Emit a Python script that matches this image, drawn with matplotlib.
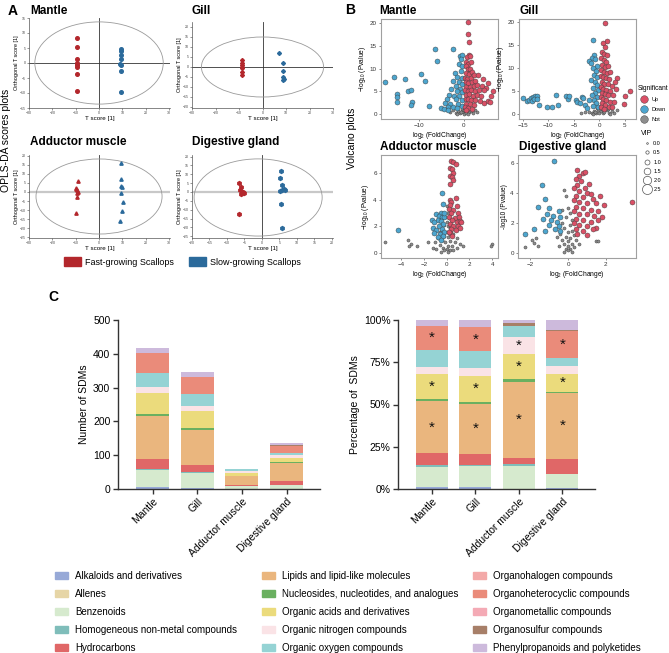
import numpy as np
import matplotlib
matplotlib.use("Agg")
import matplotlib.pyplot as plt
from matplotlib.patches import Ellipse, Patch
from matplotlib.lines import Line2D

plt.rcParams["font.family"] = ["Liberation Sans", "DejaVu Sans"]
plt.rcParams["mathtext.fontset"] = "custom"
plt.rcParams["mathtext.rm"] = "Liberation Sans"
plt.rcParams["mathtext.it"] = "Liberation Sans:italic"

# ── Data ──────────────────────────────────────────────────
tissues = ["Mantle", "Gill", "Adductor muscle", "Digestive gland"]
groups = ["Fast-growing Scallops", "Slow-growing Scallops"]

# OPLS-DA scores: (T score, orthogonal T score)
mantle_fast = [(-9.5, 8.4), (-9.4, 5.2), (-9.4, 1.3), (-9.3, 0.1), (-9.4, -0.6), (-9.5, -1.2), (-9.4, -3.7), (-9.4, -9.3)]
mantle_slow = [(9.2, 4.6), (9.3, 4.0), (9.2, 2.7), (9.3, 1.3), (9.1, -0.3), (9.2, -0.7), (9.2, -2.6), (9.3, -9.7)]
gill_fast = [(-8.8, 3.5), (-8.7, 2.2), (-8.8, 1.0), (-8.6, -0.2), (-8.8, -0.7), (-8.7, -2.3), (-8.8, -4.0)]
gill_slow = [(7.2, 7.2), (8.6, 1.8), (8.7, -2.0), (8.8, -5.1), (9.0, -5.8), (8.7, -6.3)]
adductor_fast = [(-9.0, 6.1), (-10.0, 2.4), (-9.8, 1.7), (-9.3, 1.1), (-9.1, 0.2), (-9.6, -0.7), (-9.3, -2.9), (-9.8, -11.8)]
adductor_slow = [(9.3, 16.3), (9.3, 7.1), (9.6, 3.3), (9.9, 2.9), (9.2, -0.7), (10.2, -5.4), (9.9, -10.6), (9.0, -16.1)]
digestive_fast = [(-6.7, 5.3), (-6.1, 2.6), (-6.3, 0.9), (-5.8, 0.0), (-5.3, -0.2), (-6.1, -1.1), (-5.1, -0.6), (-6.7, -12.6)]
digestive_slow = [(5.3, 11.9), (5.1, 8.1), (5.6, 4.0), (6.3, 1.6), (5.6, 0.9), (5.1, 0.4), (6.6, 1.2), (5.3, -6.9), (5.6, -20.5)]

# Volcano points: (log2 FC, -log10 P)
mantle_up = [(1.0, 20.3), (0.9, 17.5), (1.2, 15.8), (1.1, 13), (0.8, 12.5), (1.4, 12.8), (0.6, 11.5), (1.0, 11),
             (1.6, 11.5), (0.4, 10.5), (0.9, 10), (1.3, 9.8), (0.5, 9), (1.1, 8.8), (1.8, 9.2), (0.3, 8), (0.8, 7.8),
             (1.5, 8), (2.2, 8.5), (3.2, 8.6), (0.4, 7), (1.0, 6.8), (1.9, 7), (2.6, 7.2), (4.2, 7.8), (5.3, 6.8),
             (0.6, 6), (1.3, 6), (2.2, 6.1), (3.0, 6.3), (4.0, 6.1), (5.0, 5.8), (0.3, 5.2), (0.9, 5), (1.6, 5.3),
             (2.5, 5.1), (3.4, 5.3), (4.5, 5.2), (6.4, 5.0), (0.5, 4.2), (1.2, 4.3), (2.0, 4.0), (2.9, 4.2), (3.8, 3.9),
             (6.0, 4.0), (0.4, 3.2), (1.0, 3.3), (1.7, 3.0), (2.6, 3.1), (3.5, 2.9), (4.6, 2.5), (5.4, 2.9), (0.6, 2.3),
             (1.4, 2.2), (2.2, 2.0), (5.8, 2.7), (0.3, 1.5), (1.0, 1.4), (1.8, 1.2), (0.6, 0.9)]
mantle_down = [(-17.5, 7.0), (-15.5, 8.2), (-14.8, 4.4), (-14.8, 3.8), (-14.8, 2.6), (-13.0, 7.8), (-12.3, 5.0),
               (-11.8, 5.3), (-11.5, 2.7), (-11.7, 1.9), (-9.5, 8.7), (-8.7, 7.2), (-7.7, 1.8), (-6.5, 14.4),
               (-5.9, 11.6), (-5.0, 1.3), (-2.3, 14.3), (-0.8, 12.8), (-0.4, 12.9), (-0.6, 12.0), (-1.0, 11.0),
               (-0.3, 10.5), (-2.0, 9.0), (-0.7, 9.5), (-1.5, 8.2), (-0.4, 8.0), (-2.3, 7.2), (-1.0, 7.0), (-0.5, 6.5),
               (-1.8, 6.2), (-2.8, 5.5), (-0.8, 5.5), (-1.4, 5.0), (-0.3, 4.8), (-3.2, 4.2), (-2.2, 4.0), (-1.0, 4.0),
               (-3.8, 3.2), (-1.7, 3.2), (-0.5, 3.0), (-4.2, 2.5), (-3.0, 2.3), (-1.2, 2.2), (-0.4, 1.8), (-3.6, 1.6),
               (-2.5, 1.5), (-4.5, 1.2), (-1.5, 1.3), (-3.5, 0.9)]
mantle_not = [(-1.8, 0.3), (-1.2, 0.6), (-0.8, 0.2), (-0.5, 0.8), (-0.2, 0.4), (0.0, 0.1), (0.2, 0.6), (0.5, 0.3),
              (0.8, 0.9), (1.2, 0.4), (1.6, 0.7), (2.1, 0.3), (-2.5, 0.8), (-0.3, 1.1), (0.3, 1.2), (2.6, 0.9),
              (-1.5, 0.1), (1.0, 0.05), (3.0, 0.5), (-3.0, 0.4), (0.1, 0.8), (-0.6, 0.5)]

gill_up = [(1.1, 19.7), (1.5, 15.8), (0.8, 15.3), (1.2, 14.5), (0.5, 13.5), (1.0, 13.0), (1.6, 12.7), (0.4, 12.2),
           (0.9, 11.8), (1.4, 11.2), (0.6, 10.6), (1.1, 10.2), (1.8, 10.3), (0.4, 9.5), (0.9, 9.1), (1.5, 8.8),
           (2.2, 9.0), (0.3, 8.2), (0.8, 8.0), (1.3, 7.7), (2.0, 7.5), (3.5, 7.8), (3.2, 7.0), (0.5, 7.0), (1.0, 6.6),
           (1.7, 6.4), (2.5, 6.0), (0.3, 5.8), (0.8, 5.5), (1.4, 5.3), (2.1, 5.0), (3.3, 5.4), (6.1, 4.9), (0.5, 4.6),
           (1.1, 4.4), (1.8, 4.0), (2.8, 4.0), (5.0, 3.8), (0.3, 3.6), (0.8, 3.3), (1.4, 3.1), (2.2, 2.6), (3.0, 2.5),
           (4.9, 2.2), (0.6, 2.3), (1.2, 2.0), (1.9, 1.6), (0.4, 1.4), (1.0, 1.1), (2.6, 1.4)]
gill_down = [(-15.0, 3.5), (-14.3, 2.8), (-13.8, 3.1), (-13.4, 3.4), (-13.0, 3.6), (-12.6, 3.8), (-12.2, 3.8),
             (-13.2, 2.9), (-12.8, 3.2), (-12.3, 3.3), (-11.8, 1.9), (-10.3, 1.6), (-9.3, 1.6), (-8.6, 4.0),
             (-8.1, 1.9), (-6.6, 3.8), (-6.1, 3.3), (-5.9, 3.9), (-4.5, 3.1), (-4.3, 2.5), (-3.7, 2.3), (-3.4, 3.7),
             (-3.2, 3.5), (-2.8, 2.0), (-2.5, 1.2), (-1.2, 16.1), (-1.0, 12.7), (-1.4, 12.2), (-2.1, 11.5),
             (-1.6, 11.0), (-0.8, 11.9), (-0.5, 10.5), (-1.2, 10.0), (-0.7, 9.3), (-1.0, 8.5), (-0.4, 8.0),
             (-1.6, 7.4), (-0.9, 7.0), (-0.5, 6.2), (-1.2, 5.6), (-0.3, 5.2), (-0.8, 4.6), (-1.5, 4.1), (-0.4, 3.7),
             (-1.0, 3.0), (-2.0, 3.0), (-0.6, 2.3), (-1.3, 1.8), (-0.3, 1.4)]
gill_not = [(-2.0, 0.5), (-1.5, 0.2), (-1.0, 0.7), (-0.6, 0.3), (-0.2, 0.9), (0.0, 0.2), (0.3, 0.6), (0.7, 0.1),
            (1.0, 0.5), (1.5, 0.8), (2.0, 0.3), (2.5, 0.6), (3.0, 0.2), (-2.8, 0.4), (-0.4, 1.2), (0.5, 1.1),
            (1.8, 1.0), (-1.2, 0.0), (3.5, 0.8), (2.2, 0.0), (-3.5, 0.2), (-0.8, 0.4)]

adductor_up = [(0.4, 6.9), (0.6, 6.8), (0.8, 6.7), (0.3, 6.4), (0.5, 6.3), (0.6, 6.0), (0.3, 5.8), (0.5, 5.7),
               (0.6, 5.5), (0.3, 5.2), (0.3, 4.0), (0.4, 3.8), (0.3, 3.6), (0.8, 4.1), (0.9, 3.5), (0.2, 3.3),
               (0.6, 3.2), (1.0, 3.0), (0.4, 3.0), (0.2, 2.7), (0.7, 2.6), (1.1, 2.7), (0.5, 2.5), (0.9, 2.3),
               (1.2, 2.4), (0.3, 2.2), (0.6, 2.0), (1.0, 2.0), (1.3, 2.3), (0.4, 1.8), (0.8, 1.7), (0.3, 1.5),
               (1.2, 1.9), (0.5, 1.3), (0.2, 1.6)]
adductor_down = [(-4.3, 1.7), (-0.4, 4.5), (-0.3, 3.7), (-0.5, 3.0), (-0.9, 2.9), (-0.7, 2.8), (-0.4, 2.7),
                 (-0.2, 2.7), (-1.3, 2.5), (-0.8, 2.5), (-0.5, 2.4), (-1.1, 2.3), (-0.3, 2.2), (-0.7, 2.0),
                 (-1.2, 1.9), (-0.4, 1.8), (-0.9, 1.7), (-0.2, 1.6), (-1.1, 1.5), (-0.6, 1.4), (-0.3, 1.3),
                 (-0.8, 1.2), (-0.5, 1.0), (-0.2, 3.0)]
adductor_not = [(-5.4, 0.8), (-3.4, 1.0), (-3.1, 0.7), (-3.3, 0.5), (-2.6, 0.5), (-1.6, 0.8), (4.0, 0.7), (3.9, 0.5),
                (0.0, 3.5), (0.1, 3.0), (-0.1, 2.7), (0.2, 2.6), (0.0, 2.3), (-0.2, 2.1), (0.1, 2.0), (0.3, 1.9),
                (-0.4, 1.7), (0.0, 1.6), (-0.6, 1.6), (0.4, 1.5), (0.6, 1.4), (-0.2, 1.3), (0.1, 1.2), (-0.8, 1.1),
                (0.9, 1.1), (-0.4, 1.0), (0.3, 0.9), (-0.1, 0.8), (-1.0, 0.8), (0.7, 0.8), (1.2, 0.7), (-0.6, 0.6),
                (0.1, 0.5), (0.5, 0.5), (-0.3, 0.4), (-1.2, 0.4), (0.9, 0.4), (0.0, 0.3), (-0.2, 0.2), (0.3, 0.2),
                (0.1, 0.1), (-0.5, 0.1), (0.6, 0.2), (1.4, 0.5), (-0.9, 0.3)]

digestive_up = [(3.4, 3.4), (0.5, 5.5), (0.6, 5.1), (0.8, 5.3), (0.9, 5.4), (0.4, 4.9), (0.7, 4.8), (1.1, 4.6),
                (0.5, 4.5), (0.9, 4.3), (0.3, 4.3), (0.6, 4.1), (1.0, 4.0), (1.2, 3.9), (0.4, 3.8), (0.8, 3.7),
                (1.3, 3.6), (1.7, 3.8), (0.3, 3.5), (0.6, 3.4), (1.0, 3.3), (1.5, 3.3), (1.9, 3.2), (0.4, 3.1),
                (0.8, 3.0), (1.2, 2.9), (1.6, 2.8), (0.3, 2.8), (0.6, 2.6), (1.0, 2.6), (1.4, 2.5), (1.8, 2.4),
                (0.4, 2.3), (0.8, 2.2), (1.2, 2.1), (1.6, 2.2), (0.3, 2.0), (0.6, 1.9), (1.0, 1.8), (1.5, 1.7),
                (0.4, 1.6), (0.8, 1.5), (1.3, 1.6), (0.5, 1.3), (1.0, 1.2)]
digestive_down = [(-0.75, 6.1), (-1.4, 4.5), (-1.2, 3.6), (-1.6, 3.1), (-1.0, 3.0), (-0.5, 2.8), (-1.1, 2.6),
                  (-0.8, 2.5), (-0.4, 2.4), (-1.3, 2.3), (-0.9, 2.2), (-0.6, 2.1), (-1.0, 1.9), (-0.5, 1.8),
                  (-0.7, 1.6), (-1.2, 1.5), (-0.4, 1.5), (-2.3, 1.3), (-1.8, 1.6)]
digestive_not = [(-0.2, 4.2), (-0.1, 3.8), (0.0, 3.0), (-0.3, 2.9), (0.1, 2.7), (-0.1, 2.4), (0.2, 2.2), (-0.3, 2.0),
                 (0.1, 1.9), (-0.2, 1.7), (0.2, 1.5), (0.0, 1.4), (-0.4, 1.3), (0.3, 1.2), (-0.1, 1.1), (0.1, 1.0),
                 (-0.3, 0.9), (0.4, 0.9), (0.0, 0.8), (-0.2, 0.6), (0.2, 0.6), (0.0, 0.5), (-0.1, 0.3), (0.1, 0.3),
                 (0.0, 0.2), (0.2, 0.1), (-0.2, 0.1), (0.3, 0.4), (-0.5, 0.5), (-1.9, 0.9), (-1.7, 1.0), (-1.8, 0.7),
                 (-1.6, 0.5), (-2.3, 0.4), (1.5, 0.8), (1.6, 0.8), (0.6, 0.6), (-0.6, 1.1)]

vip_levels = [0.0, 0.5, 1.0, 1.5, 2.0, 2.5]

# SDM class counts per tissue
classes = [
    "Alkaloids and derivatives", "Allenes", "Benzenoids", "Homogeneous non-metal compounds",
    "Hydrocarbons", "Lipids and lipid-like molecules", "Nucleosides, nucleotides, and analogues",
    "Organic acids and derivatives", "Organic nitrogen compounds", "Organic oxygen compounds",
    "Organohalogen compounds", "Organoheterocyclic compounds", "Organometallic compounds",
    "Organosulfur compounds", "Phenylpropanoids and polyketides",
]
class_colors = [
    "#97A9D7", "#E6D5A6", "#D6EACE", "#7FBDBA", "#E06767", "#EAB67E", "#6AB060",
    "#EBDB7C", "#FAE3E6", "#95D3D4", "#F3A9A8", "#EA8B7A", "#F4AAB5", "#A77F68", "#CDBADC",
]
mantle_counts = [5, 0, 50, 4, 29, 128, 6, 62, 17, 42, 0, 58, 0, 1, 15]
gill_counts = [4, 0, 43, 3, 22, 103, 4, 52, 16, 35, 0, 49, 0, 1, 14]
adductor_counts = [0, 0, 8, 1, 2, 27, 1, 9, 6, 4, 0, 0, 0, 1, 1]
digestive_counts = [1, 0, 11, 0, 12, 54, 1, 14, 7, 6, 0, 22, 0, 1, 8]

# significant classes marked with * in the percentage plot
star_marks = {
    "Mantle": ["Lipids and lipid-like molecules", "Organic acids and derivatives", "Organoheterocyclic compounds"],
    "Gill": ["Lipids and lipid-like molecules", "Organic acids and derivatives", "Organoheterocyclic compounds"],
    "Adductor muscle": ["Lipids and lipid-like molecules", "Organic acids and derivatives", "Organic nitrogen compounds"],
    "Digestive gland": ["Lipids and lipid-like molecules", "Organic acids and derivatives", "Organoheterocyclic compounds"],
}

# ── Figure ────────────────────────────────────────────────
W, H = 669, 653
fig = plt.figure(figsize=(W / 100, H / 100), dpi=100)


def add_ax(l, t, r, b):
    return fig.add_axes([l / W, 1 - b / H, (r - l) / W, (b - t) / H])


RED, BLUE = "#B3272C", "#2B6A9B"

# ── A: OPLS-DA ────────────────────────────────────────────
opls = [
    (mantle_fast, mantle_slow, (29, 18, 170, 108), (-30, 30.4), (-15, 15), range(-30, 31, 10), range(-15, 16, 5),
     (0, 0, 55, 27.4), "o", 2.6, ("#333333", 0.6)),
    (gill_fast, gill_slow, (192, 22, 333, 108), (-29, 29.6), (-20.5, 22.5), range(-30, 31, 10), range(-20, 21, 5),
     (0, 0, 52, 30), "D", 2.0, ("#333333", 0.6)),
    (adductor_fast, adductor_slow, (29, 155, 170, 238), (-30, 30.4), (-25.5, 20.5), range(-30, 31, 10),
     range(-25, 21, 5), (0, -2.5, 54, 41.6), "^", 2.4, ("#C8C8C8", 1.6)),
    (digestive_fast, digestive_slow, (192, 155, 333, 238), (-20, 20.3), (-26, 20.9), range(-20, 21, 5),
     range(-25, 21, 5), (-1.1, -3.1, 36.6, 43.6), "h", 2.8, ("#C8C8C8", 1.6)),
]
for fast, slow, box, xl, yl, xt, yt, ell, mk, ms, zl in opls:
    ax = add_ax(*box)
    ax.set_xlim(*xl)
    ax.set_ylim(*yl)
    ax.axhline(0, color=zl[0], lw=zl[1], zorder=1)
    ax.axvline(0, color="#333333", lw=0.6, zorder=1)
    ax.add_patch(Ellipse(ell[:2], ell[2], ell[3], fill=False, ec="#9A9A9A", lw=0.6))
    for pts, c in ((fast, RED), (slow, BLUE)):
        p = np.array(pts)
        ax.plot(p[:, 0], p[:, 1], ls="none", marker=mk, ms=ms, color=c, mec=c, zorder=3)
    ax.set_xticks(list(xt))
    ax.set_yticks(list(yt))
    ax.tick_params(labelsize=2.5, length=1.2, width=0.4, pad=1, colors="#444444")
    for s in ("top", "right"):
        ax.spines[s].set_visible(False)
    for s in ("left", "bottom"):
        ax.spines[s].set_linewidth(0.5)
        ax.spines[s].set_color("#555555")
    ax.set_xlabel("T score [1]", fontsize=4.5, labelpad=1)
    ax.set_ylabel("Orthogonal T score [1]", fontsize=4, labelpad=1)

for name, (x, y) in zip(tissues, [(30, 5), (192, 5), (30, 136), (192, 136)]):
    fig.text(x / W, 1 - y / H, name, fontsize=8.5, fontweight="bold", va="top")

fig.legend(handles=[Patch(color=RED), Patch(color=BLUE)], labels=groups, ncol=2, loc="center left",
           bbox_to_anchor=(64 / W, 1 - 262 / H), frameon=False, fontsize=6.5, handlelength=1.9,
           handleheight=1.0, handletextpad=0.45, columnspacing=1.6, borderpad=0, borderaxespad=0)
fig.text(6 / W, 1 - 140 / H, "OPLS-DA scores plots", rotation=90, fontsize=7.5, ha="center", va="center")

# ── B: volcano plots ──────────────────────────────────────
UP, DOWN, NOT = "#DA5066", "#4DA6CF", "#8E8E8E"
ylab_sub = r"$-$log$_{10}$ (Pvalue)"
volc = [
    (mantle_up, mantle_down, mantle_not, (381, 19, 498, 119), (-18.4, 7.6), (-1.1, 20.9), [-10, 0], [0, 5, 10, 15, 20], ylab_sub),
    (gill_up, gill_down, gill_not, (519, 19, 636, 119), (-15.8, 7.25), (-1.1, 20.6), [-15, -10, -5, 0, 5], [0, 5, 10, 15, 20], ylab_sub),
    (adductor_up, adductor_down, adductor_not, (381, 155, 498, 258), (-5.75, 4.5), (-0.37, 7.35), [-4, -2, 0, 2, 4], [0, 2, 4, 6], ylab_sub),
    (digestive_up, digestive_down, digestive_not, (518, 155, 636, 258), (-2.65, 3.6), (-0.33, 6.53), [-2, 0, 2], [0, 2, 4, 6], "-log10 (Pvalue)"),
]
for up, down, nt, box, xl, yl, xt, yt, ylab in volc:
    ax = add_ax(*box)
    for pts, c, s in ((nt, NOT, 5), (down, DOWN, 13), (up, UP, 13)):
        p = np.array(pts)
        ax.scatter(p[:, 0], p[:, 1], s=s, c=c, edgecolors="#3A3A3A", linewidths=0.3, zorder=3)
    ax.set_xlim(*xl)
    ax.set_ylim(*yl)
    ax.set_xticks(xt)
    ax.set_yticks(yt)
    ax.tick_params(labelsize=4.5, length=1.5, width=0.4, pad=1.5, colors="#333333")
    for s in ax.spines.values():
        s.set_color("#A0A0A0")
        s.set_linewidth(0.8)
    ax.set_xlabel(r"log$_2$ (FoldChange)", fontsize=4.8, labelpad=1.5)
    ax.set_ylabel(ylab, fontsize=4.8, labelpad=1.5)

for name, (x, y) in zip(tissues, [(379, 5), (519, 5), (380, 141), (519, 141)]):
    fig.text(x / W, 1 - y / H, name, fontsize=8.5, fontweight="bold", va="top")
fig.text(352 / W, 1 - 138 / H, "Volcano plots", rotation=90, fontsize=7.5, ha="center", va="center")

sig_handles = [Line2D([], [], ls="none", marker="o", ms=5.5, mfc=c, mec="#3A3A3A", mew=0.3) for c in (UP, DOWN, NOT)]
fig.legend(sig_handles, ["Up", "Down", "Not"], title="Significant", loc="upper left",
           bbox_to_anchor=(638 / W, 1 - 85 / H), frameon=False, fontsize=4, title_fontsize=4.8,
           handletextpad=0.4, labelspacing=0.9, borderpad=0, borderaxespad=0, alignment="left")
vip_handles = [Line2D([], [], ls="none", marker="o", ms=1.2 + 2.4 * v, mfc="white", mec="#555555", mew=0.5)
               for v in vip_levels]
fig.legend(vip_handles, [f"{v:.1f}" for v in vip_levels], title="VIP", loc="upper left",
           bbox_to_anchor=(641 / W, 1 - 130 / H), frameon=False, fontsize=4, title_fontsize=5,
           handletextpad=0.2, labelspacing=0.75, borderpad=0, borderaxespad=0, alignment="left")

# ── C: stacked bars ───────────────────────────────────────
counts = np.array([mantle_counts, gill_counts, adductor_counts, digestive_counts], dtype=float)
pct = counts / counts.sum(axis=1, keepdims=True) * 100
xpos = np.arange(len(tissues))

ax_n = add_ax(118, 320, 320, 489)
ax_p = add_ax(398, 320, 595, 489)
for ax, vals in ((ax_n, counts), (ax_p, pct)):
    bottom = np.zeros(len(tissues))
    for j, col in enumerate(class_colors):
        ax.bar(xpos, vals[:, j], 0.74, bottom=bottom, color=col, edgecolor="none")
        bottom += vals[:, j]
    ax.set_xlim(-0.78, 3.75)
    ax.set_xticks(xpos)
    ax.set_xticklabels(tissues, rotation=45, ha="right", rotation_mode="anchor", fontsize=7.5)
    ax.tick_params(length=3.5, width=1, colors="#333333", labelcolor="black", labelsize=7.5, pad=2)
    for s in ("top", "right"):
        ax.spines[s].set_visible(False)
    for s in ("left", "bottom"):
        ax.spines[s].set_linewidth(1)
        ax.spines[s].set_color("#333333")

ax_n.set_ylim(0, 500)
ax_n.set_yticks(range(0, 501, 100))
ax_n.set_ylabel("Number of SDMs", fontsize=7.5, labelpad=3)
ax_p.set_ylim(0, 100)
ax_p.set_yticks([0, 25, 50, 75, 100])
ax_p.set_yticklabels(["0%", "25%", "50%", "75%", "100%"])
ax_p.set_ylabel("Percentage of  SDMs", fontsize=7.5, labelpad=3)

cum = np.cumsum(pct, axis=1)
for i, t in enumerate(tissues):
    for cls in star_marks[t]:
        j = classes.index(cls)
        mid = cum[i, j] - pct[i, j] / 2
        ax_p.text(i, mid, "*", ha="center", va="center", fontsize=11, color="#111111")

handles = [Patch(color=c) for c in class_colors]
for k, x in enumerate([55, 262, 473]):
    fig.legend(handles[5 * k:5 * k + 5], classes[5 * k:5 * k + 5], loc="upper left",
               bbox_to_anchor=(x / W, 1 - 571 / H), frameon=False, fontsize=7, handlelength=1.35,
               handleheight=0.8, handletextpad=0.7, labelspacing=0.82, borderpad=0, borderaxespad=0)

# panel letters
for letter, (x, y) in zip("ABC", [(8, 4), (345, 3), (48, 290)]):
    fig.text(x / W, 1 - y / H, letter, fontsize=10, fontweight="bold", va="top")

fig.savefig("out.png", dpi=100)
